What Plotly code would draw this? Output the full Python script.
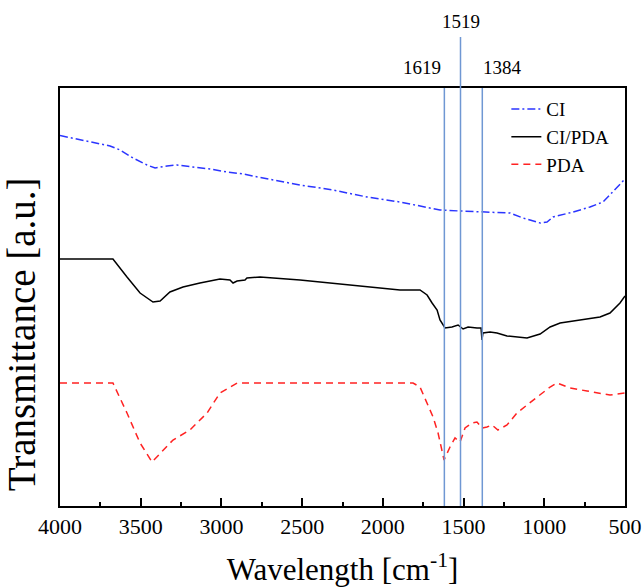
import plotly.graph_objects as go

# Wavenumbers (cm^-1) and transmittance (a.u.)
ci_x = [4000, 3895, 3796, 3690, 3628, 3548, 3461, 3411, 3337, 3275, 3176, 3071, 2965, 2866,
        2773, 2513, 2309, 2098, 1894, 1646, 1522, 1380, 1274, 1212, 1132, 1026, 983, 946,
        822, 717, 636, 574, 500]
ci_y = [370.5, 367, 364, 360, 356, 348, 341, 338, 340, 341, 339, 337, 334, 332,
        329, 321, 316, 309, 304, 296, 295, 294, 294, 293, 288, 283, 284, 289,
        294, 299, 304, 314, 327]

cipda_x = [4000, 3672, 3585, 3504, 3424, 3380, 3319, 3238, 3133, 3009, 2947, 2928, 2903, 2854,
           2842, 2761, 2513, 2098, 2018, 1894, 1770, 1726, 1695, 1664, 1646, 1615, 1572, 1534,
           1503, 1472, 1417, 1392, 1386, 1380, 1336, 1293, 1231, 1150, 1107, 1026, 964, 902,
           779, 655, 593, 531, 500]
cipda_y = [247, 247, 229, 213, 204, 205, 214, 219, 223, 227, 226, 223, 225, 226,
           228, 229, 226, 219, 218, 216, 216, 211, 203, 196, 186, 178, 179, 181,
           177, 179, 178, 178, 166, 173, 174, 173, 170, 169, 168, 172, 179, 183,
           186, 189, 193, 203, 210]

pda_x = [4000, 3690, 3672, 3585, 3504, 3430, 3362, 3300, 3195, 3089, 3009, 2903, 2018, 1813,
         1770, 1726, 1689, 1658, 1634, 1621, 1584, 1553, 1522, 1491, 1448, 1417, 1386, 1355,
         1324, 1287, 1231, 1169, 1107, 1026, 964, 921, 890, 840, 735, 655, 593, 500]
pda_y = [123, 123, 123, 93, 63, 44, 56, 66, 76, 93, 113, 123, 123, 123,
         119, 103, 89, 73, 56, 46, 59, 68, 64, 78, 83, 84, 78, 79,
         81, 76, 81, 93, 101, 111, 119, 123, 121, 118, 115, 113, 111, 113]

peak_positions = [1619, 1519, 1384]
peak_labels = ["1619", "1519", "1384"]
x_ticks = [4000, 3500, 3000, 2500, 2000, 1500, 1000, 500]

FONT = "Liberation Serif, Times New Roman, serif"
LINE_BLUE = "#6F97D3"

fig = go.Figure()
fig.add_trace(go.Scatter(x=ci_x, y=ci_y, mode="lines", name="CI",
                         line=dict(color="#2B35FF", width=1.5, dash="8px,3px,2px,3px")))
fig.add_trace(go.Scatter(x=cipda_x, y=cipda_y, mode="lines", name="CI/PDA",
                         line=dict(color="black", width=1.5)))
fig.add_trace(go.Scatter(x=pda_x, y=pda_y, mode="lines", name="PDA",
                         line=dict(color="#FF2222", width=1.5, dash="7px,5px")))

# vertical marker lines
tops = [1.0, 1.122, 1.0]
for xp, top in zip(peak_positions, tops):
    fig.add_shape(type="line", xref="x", yref="paper", x0=xp, x1=xp, y0=0, y1=top,
                  line=dict(color=LINE_BLUE, width=1.5), layer="above")

label_x = [1757, 1519, 1256]
label_y = [1.048, 1.158, 1.048]
for lx, ly, txt in zip(label_x, label_y, peak_labels):
    fig.add_annotation(x=lx, y=ly, xref="x", yref="paper", text=txt, showarrow=False,
                       xanchor="center", yanchor="middle",
                       font=dict(family=FONT, size=19, color="black"))

# y-axis title placed as in the reference (slightly below plot centre)
fig.add_annotation(x=-0.068, y=0.41, xref="paper", yref="paper",
                   text="Transmittance [a.u.]", textangle=-90, showarrow=False,
                   xanchor="center", yanchor="middle",
                   font=dict(family=FONT, size=39, color="black"))

fig.update_layout(
    width=644, height=587,
    margin=dict(l=60, r=19, t=88, b=81, autoexpand=False),
    paper_bgcolor="white", plot_bgcolor="white",
    font=dict(family=FONT, color="black"),
    showlegend=True,
    legend=dict(x=0.79, y=0.995, xanchor="left", yanchor="top",
                bgcolor="rgba(0,0,0,0)", font=dict(family=FONT, size=19),
                tracegroupgap=0, itemwidth=30),
)
fig.update_xaxes(
    range=[4000, 500], tickvals=x_ticks, ticktext=[str(v) for v in x_ticks],
    ticks="inside", ticklen=8, tickwidth=1.5, tickcolor="black",
    minor=dict(ticks="inside", ticklen=4, tickwidth=1.5, tickcolor="black", dtick=250),
    showline=True, linecolor="black", linewidth=1.5, mirror=True,
    showgrid=False, zeroline=False, automargin=False,
    tickfont=dict(family=FONT, size=22),
    title=dict(text="Wavelength [cm<sup>-1</sup>]", font=dict(family=FONT, size=31), standoff=26),
)
fig.update_yaxes(
    range=[0, 418], showticklabels=False, ticks="",
    showline=True, linecolor="black", linewidth=1.5, mirror=True,
    showgrid=False, zeroline=False, automargin=False,
)

fig.write_html("out.html")
